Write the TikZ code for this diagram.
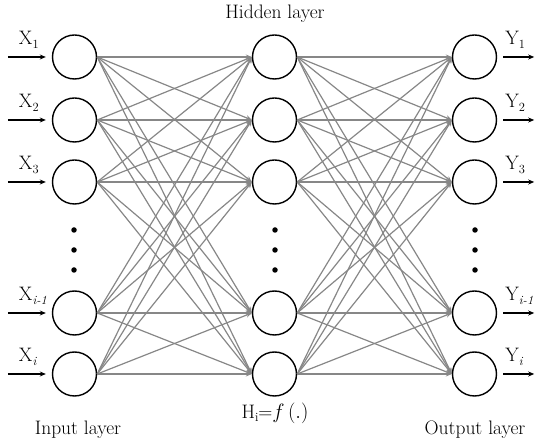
\documentclass[tikz,border=0pt]{standalone}
\usepackage{tikz}
\usetikzlibrary{arrows.meta,positioning}
\definecolor{ink}{RGB}{0,0,0}
\definecolor{wire}{RGB}{135,135,135}
\tikzset{
  neuron/.style={draw=ink,circle,line width=1.4pt,minimum size=44pt,inner sep=0pt},
  link/.style={draw=wire,line width=1.2pt,-{Stealth[length=6pt,width=5pt]}},
  io/.style={draw=ink,line width=1.3pt,-{Stealth[length=6pt,width=5pt]}},
  lbl/.style={font=\fontsize{19.5}{23}\selectfont,inner sep=1pt},
  dot/.style={circle,fill=ink,inner sep=0pt,minimum size=5.5pt},
}
\newcommand{\lsub}[1]{\raisebox{-3.5pt}{\fontsize{12.5}{14}\selectfont #1}}
\begin{document}
\begin{tikzpicture}[x=1pt,y=-1pt]
  \useasboundingbox (0,0) rectangle (550,443);
  % three layers of five neurons
  \foreach \n/\y in {1/57,2/120,3/182,4/313,5/374}{
    \node[neuron] (in\n)  at (74.5,\y) {};
    \node[neuron] (hid\n) at (274.5,\y) {};
    \node[neuron] (out\n) at (474.5,\y) {};
  }
  % vertical ellipsis in each layer
  \foreach \x/\l in {74/a,275/b,475/c}{
    \node[dot] (\l1) at (\x,230) {};
    \node[dot] (\l2) at (\x,250) {};
    \node[dot] (\l3) at (\x,270) {};
  }
  % full connections
  \foreach \i in {1,...,5}{
    \foreach \j in {1,...,5}{
      \draw[link] (in\i.east) -- (hid\j.west);
      \draw[link] (hid\i.east) -- (out\j.west);
    }
  }
  % inputs and outputs
  \foreach \n/\sub in {1/1,2/2,3/3,4/{\textit{i-1}},5/{\textit{i}}}{
    \coordinate (xs\n) at ([xshift=-44pt]in\n.west);
    \coordinate (ye\n) at ([xshift=37pt]out\n.east);
    \draw[io] (xs\n) -- ([xshift=-6pt]in\n.west);
    \draw[io] ([xshift=6pt]out\n.east) -- (ye\n);
    \node[lbl,anchor=base west] (xl\n) at ([xshift=10pt,yshift=12pt]xs\n) {X\lsub{\sub}};
    \node[lbl,anchor=base west] (yl\n) at ([xshift=-30pt,yshift=12pt]ye\n) {Y\lsub{\sub}};
  }
  % layer captions
  \node[lbl] (hcap) at (275,14)  {Hidden layer};
  \node[lbl] (fcap) at (275,413) {H\lsub{i}=$f\,(.)$};
  \node[lbl] (icap) at (78,430)  {Input layer};
  \node[lbl] (ocap) at (475,430) {Output layer};
\end{tikzpicture}
\end{document}
